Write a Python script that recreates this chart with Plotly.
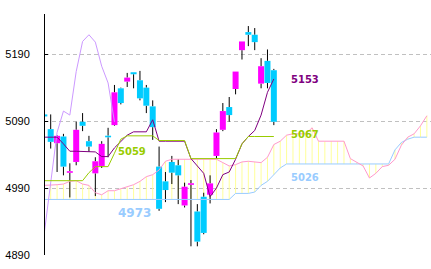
import plotly.graph_objects as go

# ---- data -------------------------------------------------------------
idx = list(range(-1, 36))            # candle periods
opens = [5100, 5078, 5057, 5067, 5013, 5029, 5089, 5060, 5012, 5023, 5068, 5084, 5139,
         5149, 5163, 5151, 5140, 5112, 5022, 5000, 5029, 5024, 4964, 4995, 4955, 4977,
         4980, 5038, 5077, 5111, 5138, 5196, 5223, 5219, 5146, 5180, 5166]
highs = [5103, 5100, 5069, 5071, 5027, 5089, 5102, 5068, 5036, 5060, 5080, 5144, 5140,
         5162, 5163, 5165, 5144, 5121, 5052, 5014, 5038, 5033, 4998, 5002, 4966, 4983,
         5009, 5078, 5117, 5126, 5164, 5209, 5232, 5229, 5184, 5197, 5168]
lows = [5094, 5049, 5014, 5009, 4976, 5024, 5075, 5044, 4978, 5020, 5036, 5083, 5115,
        5141, 5139, 5121, 5102, 5062, 4956, 4969, 4996, 4966, 4961, 4903, 4903, 4921,
        4967, 5034, 5075, 5089, 5130, 5182, 5202, 5196, 5139, 5139, 5084]
closes = [5097, 5059, 5068, 5022, 5015, 5077, 5083, 5052, 5030, 5056, 5066, 5133, 5117,
          5155, 5160, 5124, 5113, 5081, 4959, 4987, 5013, 5009, 4992, 4997, 4910, 4923,
          4997, 5073, 5105, 5099, 5164, 5209, 5219, 5208, 5172, 5147, 5089]

tenkan = [5066, 5066, 5066, 5056, 5045, 5045, 5045, 5045, 5044, 5037, 5037, 5050, 5059,
          5069, 5074, 5074, 5074, 5092, 5060, 5060, 5060, 5060, 5060, 5034, 5023, 5012,
          4977, 4990, 5010, 5014, 5033, 5056, 5067, 5076, 5099, 5133, 5153]
kijun = [5001, 5001, 5001, 5001, 5001, 5001, 5001, 5013, 5022, 5022, 5022, 5042, 5063,
         5068, 5068, 5068, 5068, 5068, 5061, 5061, 5061, 5061, 5061, 5034, 5034, 5034,
         5034, 5034, 5034, 5034, 5034, 5056, 5067, 5067, 5067, 5067, 5067]

cloud_idx = list(range(-1, 60))
senkou_a = [4994, 4994, 4995, 4996, 5000, 5001, 4996, 4994, 4983, 4980, 4986, 4986, 4989,
            4991, 4995, 5000, 5007, 5010, 5017, 5030, 5033, 5033, 5033, 5033, 5033, 5033,
            5033, 5033, 5028, 5023, 5025, 5029, 5030, 5029, 5028, 5036, 5055, 5060, 5069,
            5071, 5071, 5071, 5080, 5060, 5060, 5060, 5060, 5060, 5034, 5028, 5023, 5005,
            5012, 5022, 5024, 5033, 5054, 5066, 5071, 5083, 5098]
senkou_b = [4973] * 30 + [4982, 4982, 4982, 4984, 4994, 5000, 5010, 5020] + [5026] * 17 + \
           [5047, 5058, 5063, 5066, 5066, 5066]

LAG = 25
tick_vals = [4890, 4990, 5090, 5190]
label_texts = ["5153", "5067", "5026", "5059", "4973"]

# ---- colours ------------------------------------------------------------
UP, DOWN = "#ff00ff", "#00ccff"
C_TENKAN, C_KIJUN, C_CHIKOU = "#800080", "#99cc00", "#cc99ff"
C_SPA, C_SPB, C_CLOUD = "#ff99cc", "#99ccff", "#ffff99"

fig = go.Figure()

# cloud hatching
cx, cy = [], []
for i, a, b in zip(cloud_idx, senkou_a, senkou_b):
    cx += [i, i, None]
    cy += [a, b, None]
fig.add_trace(go.Scatter(x=cx, y=cy, mode="lines", line=dict(color=C_CLOUD, width=1),
                         hoverinfo="skip"))

# wicks and bodies
wx, wy = [], []
ux, uy, dx, dy = [], [], [], []
for i, o, h, l, c in zip(idx, opens, highs, lows, closes):
    top, bot = max(o, c), min(o, c)
    if top - bot < 2.4:
        m = (o + c) / 2
        top, bot = m + 1.2, m - 1.2
    if h > top:
        wx += [i, i, None]; wy += [h, top, None]
    if l < bot:
        wx += [i, i, None]; wy += [bot, l, None]
    if c >= o:
        ux += [i, i, None]; uy += [bot, top, None]
    else:
        dx += [i, i, None]; dy += [bot, top, None]
fig.add_trace(go.Scatter(x=wx, y=wy, mode="lines", line=dict(color="black", width=1)))
fig.add_trace(go.Scatter(x=ux, y=uy, mode="lines", line=dict(color=UP, width=6)))
fig.add_trace(go.Scatter(x=dx, y=dy, mode="lines", line=dict(color=DOWN, width=6)))

# indicator lines
fig.add_trace(go.Scatter(x=cloud_idx, y=senkou_b, mode="lines", line=dict(color=C_SPB, width=1)))
fig.add_trace(go.Scatter(x=cloud_idx, y=senkou_a, mode="lines", line=dict(color=C_SPA, width=1)))
fig.add_trace(go.Scatter(x=[i - LAG for i in idx], y=closes, mode="lines",
                         line=dict(color=C_CHIKOU, width=1)))
fig.add_trace(go.Scatter(x=idx, y=tenkan, mode="lines", line=dict(color=C_TENKAN, width=1)))
fig.add_trace(go.Scatter(x=idx, y=kijun, mode="lines", line=dict(color=C_KIJUN, width=1)))

# value labels
lab_pos = [(39.9, 5152, C_TENKAN, 10), (39.9, 5070, C_KIJUN, 10), (39.9, 5006, C_SPB, 10),
           (12.75, 5044, C_KIJUN, 10), (13.15, 4953, C_SPB, 12)]
for t, (x, y, col, sz) in zip(label_texts, lab_pos):
    fig.add_annotation(x=x, y=y, text="<b>" + t + "</b>", showarrow=False,
                       font=dict(family="DejaVu Sans", size=sz, color=col),
                       xanchor="center", yanchor="middle")

fig.update_layout(
    width=431, height=269, margin=dict(l=45, r=0, t=14, b=14, pad=0),
    paper_bgcolor="white", plot_bgcolor="white", showlegend=False,
    xaxis=dict(range=[-0.894, 59.65], visible=False, showgrid=False, zeroline=False),
    yaxis=dict(range=[4890, 5250], tickvals=tick_vals, ticktext=[str(v) for v in tick_vals],
               showline=True, linecolor="black", linewidth=1, ticks="inside", ticklen=3,
               tickcolor="black", showgrid=True, gridcolor="#c0c0c0", griddash="4px,3px",
               gridwidth=1, zeroline=False, ticklabelstandoff=12,
               tickfont=dict(family="Liberation Sans", size=11, color="black")),
)

fig.write_html("out.html")
